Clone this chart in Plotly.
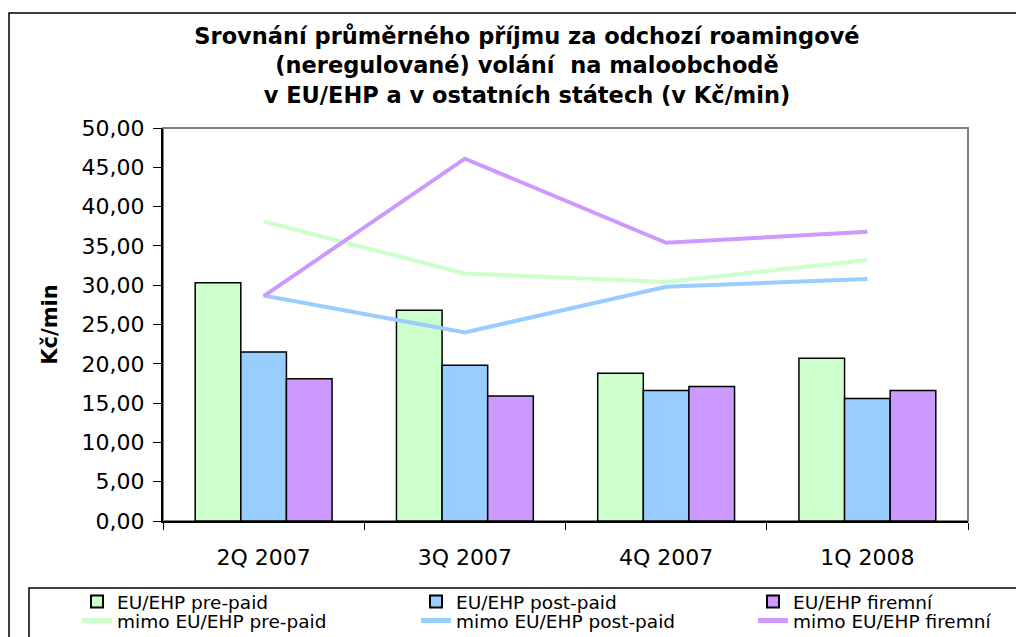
import plotly.graph_objects as go

categories = ["2Q 2007", "3Q 2007", "4Q 2007", "1Q 2008"]
eu_prepaid = [30.3, 26.8, 18.8, 20.7]
eu_postpaid = [21.5, 19.8, 16.6, 15.6]
eu_firemni = [18.1, 15.9, 17.1, 16.6]
mimo_prepaid = [38.1, 31.5, 30.4, 33.2]
mimo_postpaid = [28.7, 24.0, 29.8, 30.8]
mimo_firemni = [28.6, 46.1, 35.4, 36.8]
y_ticks = [0, 5, 10, 15, 20, 25, 30, 35, 40, 45, 50]
y_ticktext = ["%d,00" % v for v in y_ticks]

GREEN = "#CCFFCC"
BLUE = "#99CCFF"
PURPLE = "#CC99FF"
FONT = "DejaVu Sans, Liberation Sans, Arial, sans-serif"

# the page body adds an 8 px offset; size the figure so it ends at the window edge
OFF = 8
W, H = 1024 - OFF, 637 - OFF
# plot area in page pixels: x 163..968, y 128..521
PL, PR, PT, PB = 163, 968, 128, 521
L, R, T, B = PL - OFF, W - (PR - OFF), PT - OFF, H - (PB - OFF)
pw, ph = PR - PL, PB - PT

def px(x):
    return (x - PL) / pw

def py(y):
    return (PB - y) / ph

# legend slot for every series
slots = ["legend", "legend2", "legend3", "legend4", "legend5", "legend6"]
col_text_x = [117, 456, 793]
row_y = [602, 621]

fig = go.Figure()
bar_series = [("EU/EHP pre-paid", eu_prepaid, GREEN),
              ("EU/EHP post-paid", eu_postpaid, BLUE),
              ("EU/EHP firemní", eu_firemni, PURPLE)]
line_series = [("mimo EU/EHP pre-paid", mimo_prepaid, GREEN),
               ("mimo EU/EHP post-paid", mimo_postpaid, BLUE),
               ("mimo EU/EHP firemní", mimo_firemni, PURPLE)]
for i, (name, vals, col) in enumerate(bar_series):
    fig.add_trace(go.Bar(x=categories, y=vals, name=name, marker_color=col,
                         marker_line_color="black", marker_line_width=1.5,
                         legend=slots[i]))
for i, (name, vals, col) in enumerate(line_series):
    fig.add_trace(go.Scatter(x=categories, y=vals, name=name, mode="lines",
                             line=dict(color=col, width=4), legend=slots[3 + i]))

legend_layouts = {}
for i, lid in enumerate(slots):
    col, row = i % 3, i // 3
    legend_layouts[lid] = dict(
        orientation="v", x=px(col_text_x[col] - 40), xanchor="left",
        y=py(row_y[row]), yanchor="middle",
        font=dict(family=FONT, size=18.5, color="black"),
        bgcolor="rgba(0,0,0,0)", borderwidth=0, itemsizing="constant",
    )

fig.update_layout(
    width=W, height=H,
    margin=dict(l=L, r=R, t=T, b=B, pad=0, autoexpand=False),
    paper_bgcolor="white", plot_bgcolor="white",
    barmode="group", bargap=0.32, bargroupgap=0,
    font=dict(family=FONT, color="black", size=22),
    title=dict(
        text="<b>Srovnání průměrného příjmu za odchozí roamingové<br>"
             "(neregulované) volání  na maloobchodě<br>"
             "v EU/EHP a v ostatních státech (v Kč/min)</b>",
        x=(527 - OFF) / W, xanchor="center", xref="container",
        y=1 - 36 / H, yanchor="top", yref="container",
        font=dict(family=FONT, size=22.5, color="black"),
    ),
    xaxis=dict(
        type="category", range=[-0.5, 3.5],
        showline=True, linecolor="black", linewidth=2,
        ticks="outside", ticklen=7, tickwidth=1, tickcolor="black",
        tickson="boundaries", showgrid=False, zeroline=False,
        tickfont=dict(size=22), ticklabelstandoff=16,
    ),
    yaxis=dict(
        range=[0, 50], tickvals=y_ticks, ticktext=y_ticktext,
        showline=True, linecolor="black", linewidth=2,
        ticks="outside", ticklen=8, tickwidth=1, tickcolor="black",
        showgrid=False, zeroline=False, tickfont=dict(size=22),
        ticklabelstandoff=4,
        title=dict(text="<b>Kč/min</b>", font=dict(size=21), standoff=18),
    ),
    yaxis2=dict(
        overlaying="y", range=[0, 50], tickvals=y_ticks,
        showticklabels=False, showline=False, showgrid=False, zeroline=False,
        ticks="inside", ticklen=8, tickwidth=1, tickcolor="black", side="left",
    ),
    xaxis2=dict(
        overlaying="x", range=[-0.5, 3.5], tickvals=[0.5, 1.5, 2.5, 3.5],
        showticklabels=False, showline=False, showgrid=False, zeroline=False,
        ticks="inside", ticklen=7, tickwidth=1, tickcolor="black",
    ),
    showlegend=True,
    **legend_layouts,
)

# plot-area frame (grey top/right), outer chart border and legend box
fig.add_shape(type="rect", xref="paper", yref="paper", x0=0, x1=1, y0=0, y1=1,
              line=dict(color="#808080", width=2), layer="below")
fig.add_shape(type="rect", xref="paper", yref="paper", x0=px(9), x1=px(1040),
              y0=py(660), y1=py(13), line=dict(color="black", width=1.5), layer="below")
fig.add_shape(type="rect", xref="paper", yref="paper", x0=px(29), x1=px(1040),
              y0=py(660), y1=py(588), line=dict(color="black", width=1.5), layer="below")

fig.write_html("out.html")
